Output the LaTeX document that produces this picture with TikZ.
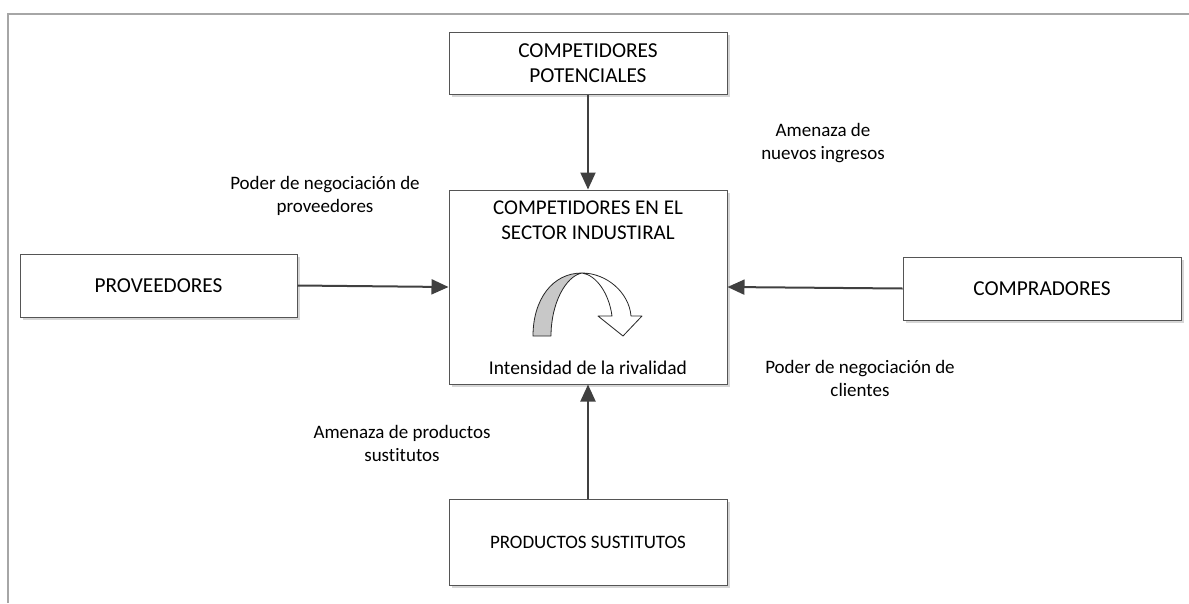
\documentclass[tikz,border=0pt]{standalone}
\usepackage{fontspec}
\setmainfont{Carlito}[Ligatures=NoCommon]
\usetikzlibrary{arrows.meta,shadows}
\definecolor{framegray}{HTML}{A6A6A6}
\definecolor{linegray}{HTML}{404040}
\definecolor{boxline}{HTML}{555555}
\definecolor{crescent}{HTML}{C8C8C8}
\tikzset{
  forcebox/.style={draw=boxline, line width=1pt, fill=white, inner sep=0pt,
    drop shadow={shadow xshift=3pt, shadow yshift=-3pt, fill=black!16, opacity=1},
    font=\fontsize{21.3}{25}\selectfont, align=center},
  lbl/.style={font=\fontsize{19}{23}\selectfont, align=center, inner sep=0pt, text=black},
  boxtxt/.style={font=\fontsize{21}{25}\selectfont, align=center, inner sep=0pt},
  force/.style={draw=linegray, line width=2pt, -{Triangle[length=17pt,width=15pt]}},
  rotshape/.style={draw=black!85, line width=0.8pt, line join=round}
}
\begin{document}
\begin{tikzpicture}[x=1pt,y=-1pt]
\useasboundingbox (0,0) rectangle (1189,603);
% frame
\draw[framegray, line width=2pt] (7.5,603) -- (7.5,13.5) -- (1189,13.5);

% boxes
\node[forcebox, minimum width=278pt, minimum height=62pt] (pot) at (588,63) {COMPETIDORES\\POTENCIALES};
\node[forcebox, minimum width=278pt, minimum height=194pt] (ind) at (588,287) {};
\node[forcebox, minimum width=277pt, minimum height=63pt] (prov) at (158.5,285.5) {PROVEEDORES};
\node[forcebox, minimum width=278pt, minimum height=63pt] (comp) at (1042,288.5) {COMPRADORES};
\node[forcebox, minimum width=278pt, minimum height=86pt, font=\fontsize{19}{23}\selectfont] (prod) at (588,542) {PRODUCTOS SUSTITUTOS};

% texts inside the central box
\node[boxtxt] (indt) at (588,220.5) {COMPETIDORES EN EL\\SECTOR INDUSTIRAL};
\node[lbl, font=\fontsize{19.5}{23}\selectfont] (riv) at (588,368) {Intensidad de la rivalidad};

% rotation arrow
\fill[crescent, rotshape] (533,336) .. controls (533,300) and (552,273) .. (582,273)
  .. controls (566,276) and (551,303) .. (551,336) -- cycle;
\draw[rotshape, fill=white] (582,273) .. controls (606,273) and (629,292) .. (631,316)
  -- (642,316) -- (623,336) -- (598,316) -- (612,316)
  .. controls (609,293) and (596,275) .. (582,273) -- cycle;

% connectors
\draw[force] (pot) -- (ind);
\draw[force] (prov.east) -- (ind.west);
\draw[force] (comp.west) -- (ind.east);
\draw[force] (prod) -- (ind);

% labels
\node[lbl] (l1) at (823,143.5) {Amenaza de\\nuevos ingresos};
\node[lbl] (l2) at (325,196) {Poder de negociación de\\proveedores};
\node[lbl] (l3) at (860,378.5) {Poder de negociación de\\clientes};
\node[lbl] (l4) at (402,443.5) {Amenaza de productos\\sustitutos};
\end{tikzpicture}
\end{document}
